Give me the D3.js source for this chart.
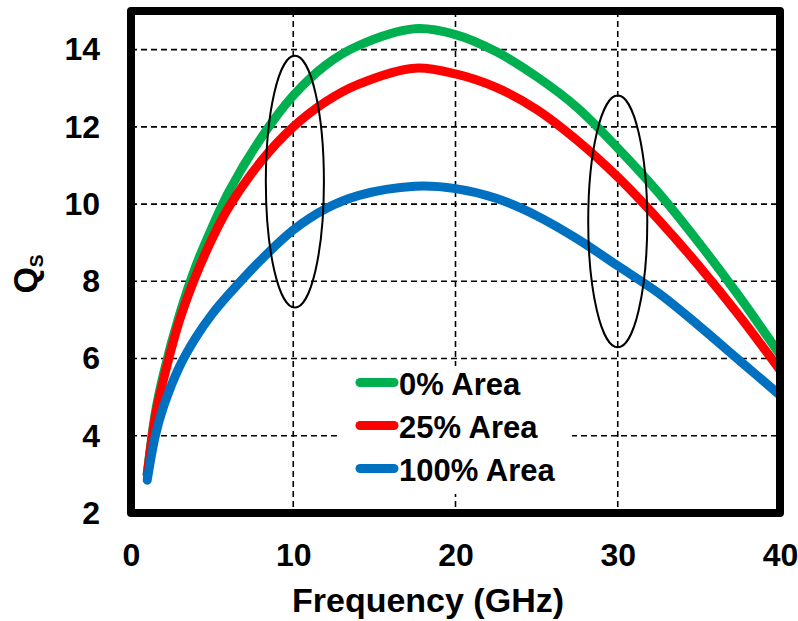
<!DOCTYPE html>
<html>
<head>
<meta charset="utf-8">
<script src="https://cdn.jsdelivr.net/npm/d3@7"></script>
<style>
  body { margin: 0; background: #fff; }
  svg { display: block; font-family: "Liberation Sans", Arial, sans-serif; font-weight: bold; }
</style>
</head>
<body>
<svg width="798" height="621"></svg>
<script>
// frequency in GHz, Qs
const freq   = [1, 1.5, 2, 3, 4, 5, 6, 8, 10, 12, 14, 17.5, 20, 22.5, 25, 27.5, 30, 32.5, 35, 37.5, 40];
const qs0    = [3.0, 4.6, 5.6, 7.15, 8.4, 9.4, 10.3, 11.7, 12.81, 13.6, 14.1, 14.54, 14.39, 13.95, 13.3, 12.5, 11.45, 10.3, 9.0, 7.6, 6.1];
const qs25   = [3.0, 4.5, 5.45, 7.0, 8.15, 9.1, 9.9, 11.1, 12.0, 12.65, 13.1, 13.52, 13.37, 13.02, 12.45, 11.65, 10.7, 9.6, 8.4, 7.1, 5.7];
const qs100  = [2.85, 4.0, 4.75, 5.8, 6.55, 7.15, 7.65, 8.55, 9.33, 9.88, 10.22, 10.46, 10.4, 10.15, 9.7, 9.1, 8.4, 7.7, 6.85, 5.95, 5.05];

const seriesNames  = ["0% Area", "25% Area", "100% Area"];
const seriesColors = ["#00b050", "#ff0000", "#0070c0"];

const xTicks = [0, 10, 20, 30, 40];
const yTicks = [2, 4, 6, 8, 10, 12, 14];

// circled regions: centre and half-extent in data units
const markFreq = [10.1, 30.0];
const markQ    = [10.58, 9.55];
const markRx   = [1.79, 1.82];
const markRy   = [3.26, 3.26];

const svg = d3.select("svg");
const pLeft = 131, pRight = 780, pTop = 11, pBottom = 513;

const x = d3.scaleLinear().domain([0, 40]).range([pLeft, pRight]);
const y = d3.scaleLinear().domain([2, 15]).range([pBottom, pTop]);

// grid
const grid = svg.append("g")
  .attr("stroke", "#000")
  .attr("stroke-width", 1.6)
  .attr("stroke-dasharray", "6,4");

grid.selectAll("line.h")
  .data(yTicks.filter(d => d > 2))
  .enter().append("line")
    .attr("x1", pLeft).attr("x2", pRight)
    .attr("y1", d => y(d)).attr("y2", d => y(d));

grid.selectAll("line.v")
  .data(xTicks.filter(d => d > 0 && d < 40))
  .enter().append("line")
    .attr("x1", d => x(d)).attr("x2", d => x(d))
    .attr("y1", pTop).attr("y2", pBottom);

// legend background hides the grid behind it
svg.append("rect")
  .attr("x", 338).attr("y", 366)
  .attr("width", 234).attr("height", 128)
  .attr("fill", "#fff");

// curves
const series = [qs0, qs25, qs100];
const line = d3.line()
  .x((d, i) => x(freq[i]))
  .y(d => y(d))
  .curve(d3.curveCatmullRom.alpha(0.5));

svg.append("defs").append("clipPath").attr("id", "plot")
  .append("rect").attr("x", pLeft - 20).attr("y", pTop).attr("width", pRight - pLeft + 20).attr("height", pBottom - pTop);

svg.append("g")
  .attr("clip-path", "url(#plot)")
  .selectAll("path")
  .data(series)
  .enter().append("path")
    .attr("d", line)
    .attr("fill", "none")
    .attr("stroke", (d, i) => seriesColors[i])
    .attr("stroke-width", 9)
    .attr("stroke-linecap", "round");

// ellipses
svg.append("g")
  .selectAll("ellipse")
  .data(markFreq)
  .enter().append("ellipse")
    .attr("cx", d => x(d))
    .attr("cy", (d, i) => y(markQ[i]))
    .attr("rx", (d, i) => x(markRx[i]) - x(0))
    .attr("ry", (d, i) => y(2) - y(2 + markRy[i]))
    .attr("fill", "none")
    .attr("stroke", "#000")
    .attr("stroke-width", 2);

// frame
svg.append("rect")
  .attr("x", pLeft).attr("y", pTop)
  .attr("width", pRight - pLeft).attr("height", pBottom - pTop)
  .attr("fill", "none")
  .attr("stroke", "#000")
  .attr("stroke-width", 8)
  .attr("stroke-linejoin", "round");

// axes
const xAxis = svg.append("g")
  .attr("transform", `translate(0,${pBottom})`)
  .call(d3.axisBottom(x).tickValues(xTicks).tickSize(0).tickPadding(30));
const yAxis = svg.append("g")
  .attr("transform", `translate(${pLeft},0)`)
  .call(d3.axisLeft(y).tickValues(yTicks).tickSize(0).tickPadding(31));

[xAxis, yAxis].forEach(a => {
  a.select(".domain").remove();
  a.selectAll("text")
    .attr("font-family", "Liberation Sans, Arial, sans-serif")
    .attr("font-weight", "bold")
    .attr("font-size", 32)
    .attr("fill", "#000");
});

// axis titles
svg.append("text")
  .attr("x", 428).attr("y", 612)
  .attr("text-anchor", "middle")
  .attr("font-size", 34)
  .text("Frequency (GHz)");

const yTitle = svg.append("text")
  .attr("transform", "translate(37,274) rotate(-90)")
  .attr("text-anchor", "middle")
  .attr("font-size", 34);
yTitle.append("tspan").text("Q");
yTitle.append("tspan").attr("font-size", 19).attr("dy", 6).text("S");

// legend
const legend = svg.append("g")
  .selectAll("g")
  .data(seriesNames)
  .enter().append("g")
    .attr("transform", (d, i) => `translate(0,${382.5 + i * 43})`);

legend.append("line")
  .attr("x1", 360).attr("x2", 394)
  .attr("stroke", (d, i) => seriesColors[i])
  .attr("stroke-width", 9)
  .attr("stroke-linecap", "round");

legend.append("text")
  .attr("x", 399).attr("y", 12)
  .attr("font-size", 31)
  .text(d => d);
</script>
</body>
</html>
